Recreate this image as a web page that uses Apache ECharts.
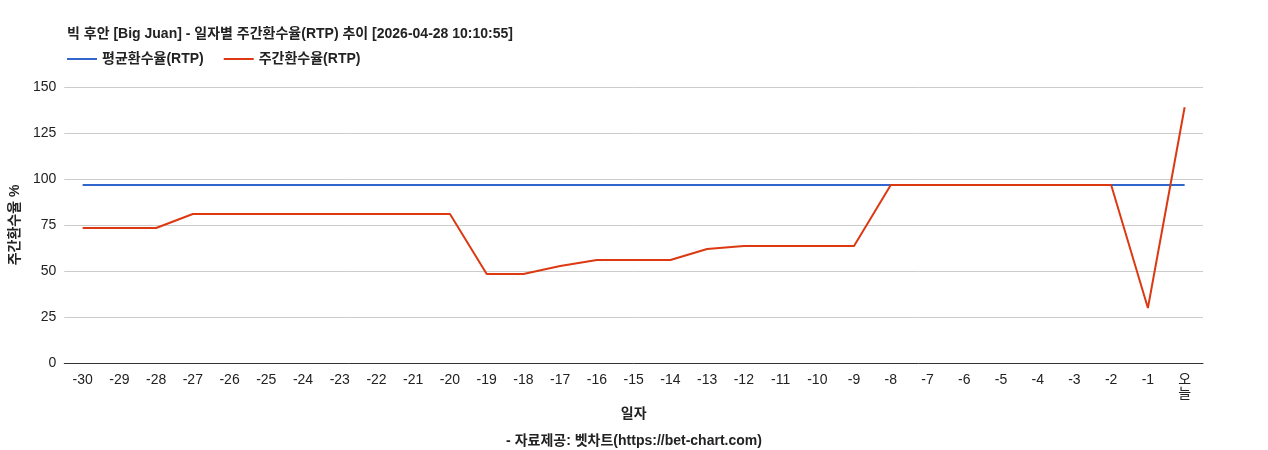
<!DOCTYPE html>
<html><head><meta charset="utf-8">
<script src="https://cdn.jsdelivr.net/npm/echarts@6/dist/echarts.min.js"></script>
<style>html,body{margin:0;padding:0;background:#fff}#c{width:1268px;height:450px}</style>
</head><body><div id="c"></div>
<script>
const categories = ['-30','-29','-28','-27','-26','-25','-24','-23','-22','-21','-20','-19','-18','-17','-16','-15','-14','-13','-12','-11','-10','-9','-8','-7','-6','-5','-4','-3','-2','-1','오늘'];
const weeklyRTP = [73.4,73.4,73.4,81,81,81,81,81,81,81,81,48.4,48.4,52.7,56,56,56,62,63.6,63.6,63.6,63.6,96.7,96.7,96.7,96.7,96.7,96.7,96.7,29.9,139];
const avgRTP = categories.map(() => 96.7);
const yTicks = [0,25,50,75,100,125,150];
const font = '"Liberation Sans", Arial, "Noto Sans CJK KR", sans-serif';
const chart = echarts.init(document.getElementById('c'));
chart.setOption({
  textStyle:{fontFamily:font},
  title:[
    {text:'빅 후안 [Big Juan] - 일자별 주간환수율(RTP) 추이 [2026-04-28 10:10:55]',left:62,top:22,textStyle:{fontSize:14,fontWeight:'bold',color:'#222',fontFamily:font}},
    {text:'- 자료제공: 벳차트(https://bet-chart.com)',left:'center',top:429,textStyle:{fontSize:14,fontWeight:'bold',color:'#222',fontFamily:font}}
  ],
  legend:{left:62,top:47,itemWidth:30,itemHeight:2,itemGap:20,icon:'rect',textStyle:{fontSize:14,fontWeight:'bold',color:'#222',fontFamily:font},data:['평균환수율(RTP)','주간환수율(RTP)']},
  grid:{left:63,right:65,top:87,bottom:87},
  xAxis:{type:'category',data:categories,boundaryGap:true,name:'일자',nameLocation:'middle',nameGap:44,
    nameTextStyle:{fontSize:14,fontWeight:'bold',color:'#222',fontFamily:font},
    axisLine:{lineStyle:{color:'#333'}},axisTick:{show:false},
    axisLabel:{color:'#222',fontSize:14,margin:10,interval:0,fontFamily:font,formatter:v=>v==='오늘'?'오\n늘':v}},
  yAxis:{type:'value',min:yTicks[0],max:yTicks[yTicks.length-1],interval:25,name:'주간환수율 %',nameLocation:'middle',nameGap:40,
    nameTextStyle:{fontSize:14,fontWeight:'bold',color:'#222',fontFamily:font},
    axisLabel:{color:'#222',fontSize:14,fontFamily:font},splitLine:{lineStyle:{color:'#ccc'}},axisLine:{show:false},axisTick:{show:false}},
  series:[
    {name:'평균환수율(RTP)',type:'line',data:avgRTP,symbol:'none',lineStyle:{color:'#3366cc',width:2},itemStyle:{color:'#3366cc'}},
    {name:'주간환수율(RTP)',type:'line',data:weeklyRTP,symbol:'none',lineStyle:{color:'#dc3912',width:2},itemStyle:{color:'#dc3912'}}
  ]
});
</script></body></html>
